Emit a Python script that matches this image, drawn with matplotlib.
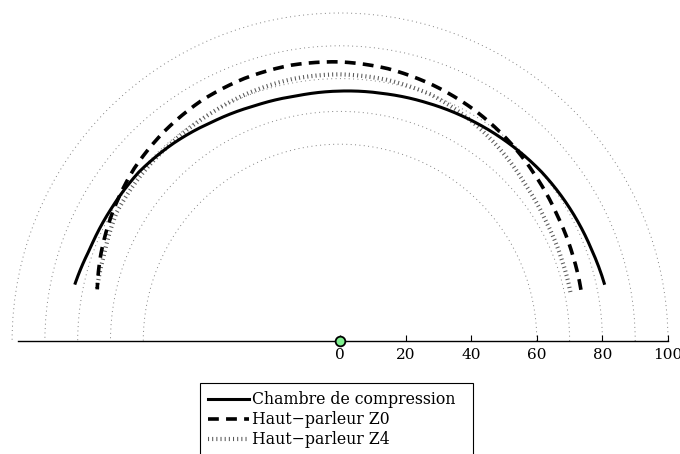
import numpy as np
import matplotlib
matplotlib.use("Agg")
import matplotlib.pyplot as plt
from matplotlib.path import Path
from matplotlib.patches import PathPatch, Rectangle
from matplotlib.lines import Line2D
from matplotlib.projections.polar import PolarTransform

# angles (deg, polar) and radii
theta_deg = [12, 20, 30, 40, 50, 60, 70, 80, 90, 100, 110, 120, 130, 140, 150, 160, 168]
r_chambre = [82.5, 81.6, 80.9, 80.2, 79.2, 78.2, 77.3, 76.6, 76.2, 75.9, 76.3, 77.3, 78.8, 80.1, 80.6, 81.3, 82.7]
r_z0 = [75.1, 75.6, 76.5, 78.0, 79.8, 81.5, 83.0, 84.3, 85.1, 85.4, 85.2, 84.6, 83.4, 81.9, 79.8, 77.6, 75.7]
r_z4 = [71.8, 72.0, 72.6, 73.9, 76.1, 78.3, 80.1, 80.9, 81.3, 81.2, 80.6, 79.8, 79.3, 79.0, 78.6, 76.6, 75.8]

grid_radii = [60, 70, 80, 90, 100]
x_ticks = [0, 20, 40, 60, 80, 100]

labels = ["Chambre de compression", "Haut\u2212parleur Z0", "Haut\u2212parleur Z4"]

W, H = 680, 454
plt.rcParams["font.family"] = "DejaVu Serif"
fig = plt.figure(figsize=(W / 100, H / 100), dpi=100)
ax = fig.add_axes([18 / W, 113 / H, 650 / W, 328 / H])
ax.set_xlim(-98.2, 100)
ax.set_ylim(0, 100)

polar = PolarTransform() + ax.transData

# dotted reference circles (arcs drawn by the polar transform)
for rr in grid_radii:
    p = Path([[0, rr], [np.pi, rr]], _interpolation_steps=180)
    ax.add_patch(PathPatch(p, fill=False, edgecolor="0.5", linewidth=0.7,
                           linestyle=(0, (1, 3.5)), transform=polar,
                           clip_on=False, zorder=1))

th = np.radians(theta_deg)
styles = [
    dict(edgecolor="black", linewidth=2.2, linestyle="-", zorder=4),
    dict(edgecolor="black", linewidth=2.6, linestyle=(0, (3, 2)), zorder=3),
    dict(edgecolor="0.35", linewidth=3.0, linestyle=(0, (0.25, 0.75)), zorder=2),
]
handles = []
for r, st in zip([r_chambre, r_z0, r_z4], styles):
    p = Path(np.column_stack([th, r]), _interpolation_steps=12)
    ax.add_patch(PathPatch(p, fill=False, transform=polar, capstyle="butt", **st))
    handles.append(Line2D([], [], color=st["edgecolor"], linewidth=st["linewidth"],
                          linestyle=st["linestyle"]))

ax.plot([0], [0], marker="o", markersize=7, markerfacecolor="#7ff08f",
        markeredgecolor="black", markeredgewidth=1.3, clip_on=False, zorder=6)

for s in ["top", "left", "right"]:
    ax.spines[s].set_visible(False)
ax.spines["bottom"].set_linewidth(1.0)
ax.set_yticks([])
ax.set_xticks(x_ticks)
ax.tick_params(axis="x", direction="in", length=4, width=0.8, labelsize=11, pad=5)

# legend box (runs past the lower edge, as in the source)
fig.patches.append(Rectangle((200 / W, -0.05), 273 / W, 1 - 383 / H + 0.05,
                             transform=fig.transFigure, fill=False,
                             edgecolor="black", linewidth=0.8))
leg = fig.legend(handles, labels, loc="upper left",
                 bbox_to_anchor=(201 / W, 1 - 384 / H), borderaxespad=0,
                 frameon=False, prop={"size": 11.3},
                 handlelength=2.6, handletextpad=0.2, labelspacing=0.2,
                 borderpad=0.45)

fig.savefig("out.png", dpi=100)
